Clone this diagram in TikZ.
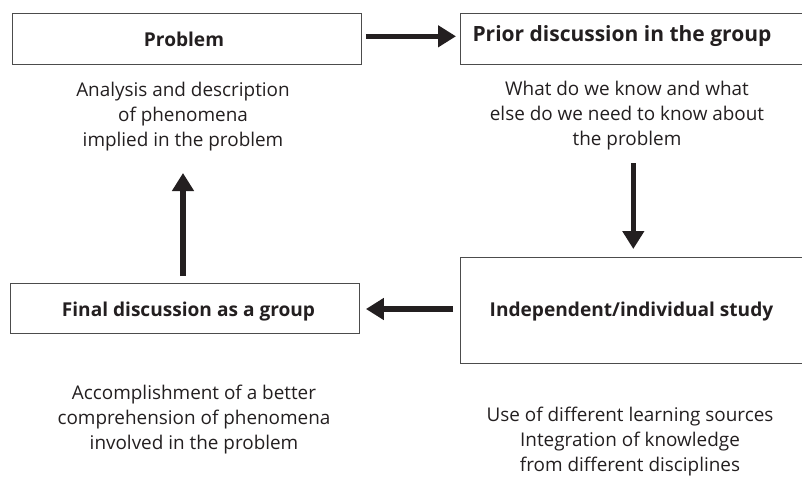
\documentclass[tikz,border=0pt]{standalone}
\usepackage{fontspec}
\setmainfont{Open Sans}
\usetikzlibrary{arrows.meta}
\definecolor{ink}{HTML}{231F20}
\tikzset{
  boxnode/.style={draw=black!70, line width=0.9pt, inner sep=0pt, anchor=north west},
  titletext/.style={font=\fontsize{19.1}{23}\selectfont\bfseries, text=ink, anchor=base, inner sep=0pt},
  desctext/.style={font=\fontsize{18.9}{25}\selectfont, text=ink, align=center, anchor=base, inner sep=0pt},
  arr/.style={draw=ink, line width=5.5pt, -{Triangle[length=18pt,width=21pt]}},
}
\begin{document}
\begin{tikzpicture}[x=1pt,y=-1pt]
\useasboundingbox (0,0) rectangle (802,476);
% boxes
\node[boxnode, minimum width=349pt, minimum height=51pt] (problem) at (12,13) {};
\node[boxnode, minimum width=350pt, minimum height=51pt] (prior) at (460,13) {};
\node[boxnode, minimum width=349pt, minimum height=50pt] (final) at (10,283) {};
\node[boxnode, minimum width=350pt, minimum height=106pt] (indep) at (460,257) {};
% titles
\node[titletext] (problemT) at (184,47) {Problem};
\node[titletext, font=\fontsize{21}{25}\selectfont\bfseries] (priorT) at (622,42) {Prior discussion in the group};
\node[titletext] (finalT) at (188.5,316) {Final discussion as a group};
\node[titletext] (indepT) at (631.5,316.7) {Independent/individual study};
% descriptions (anchor base = last line baseline)
\node[desctext] (problemD) at (183,146.7) {Analysis and description\\of phenomena\\implied in the problem};
\node[desctext] (priorD) at (627,145.5) {What do we know and what\\else do we need to know about\\the problem};
\node[desctext] (finalD) at (194,449) {Accomplishment of a better\\comprehension of phenomena\\involved in the problem};
\node[desctext] (indepD) at (630,471) {Use of different learning sources\\Integration of knowledge\\from different disciplines};
% arrow end points
\coordinate (downTop) at (633.3,163);
\coordinate (upTop) at (183,173);
% connectors
\draw[arr] (problem.east |- 0,36.3) ++(4,0) coordinate (rA) -- ([xshift=-4pt]prior.west |- rA);
\draw[arr] (downTop) -- ([yshift=8pt]indep.north -| downTop);
\draw[arr] ([xshift=-7pt]indep.west |- 0,309) -- ([xshift=6pt]final.east |- 0,309);
\draw[arr] ([yshift=7pt]final.north -| upTop) -- (upTop);
\end{tikzpicture}
\end{document}
